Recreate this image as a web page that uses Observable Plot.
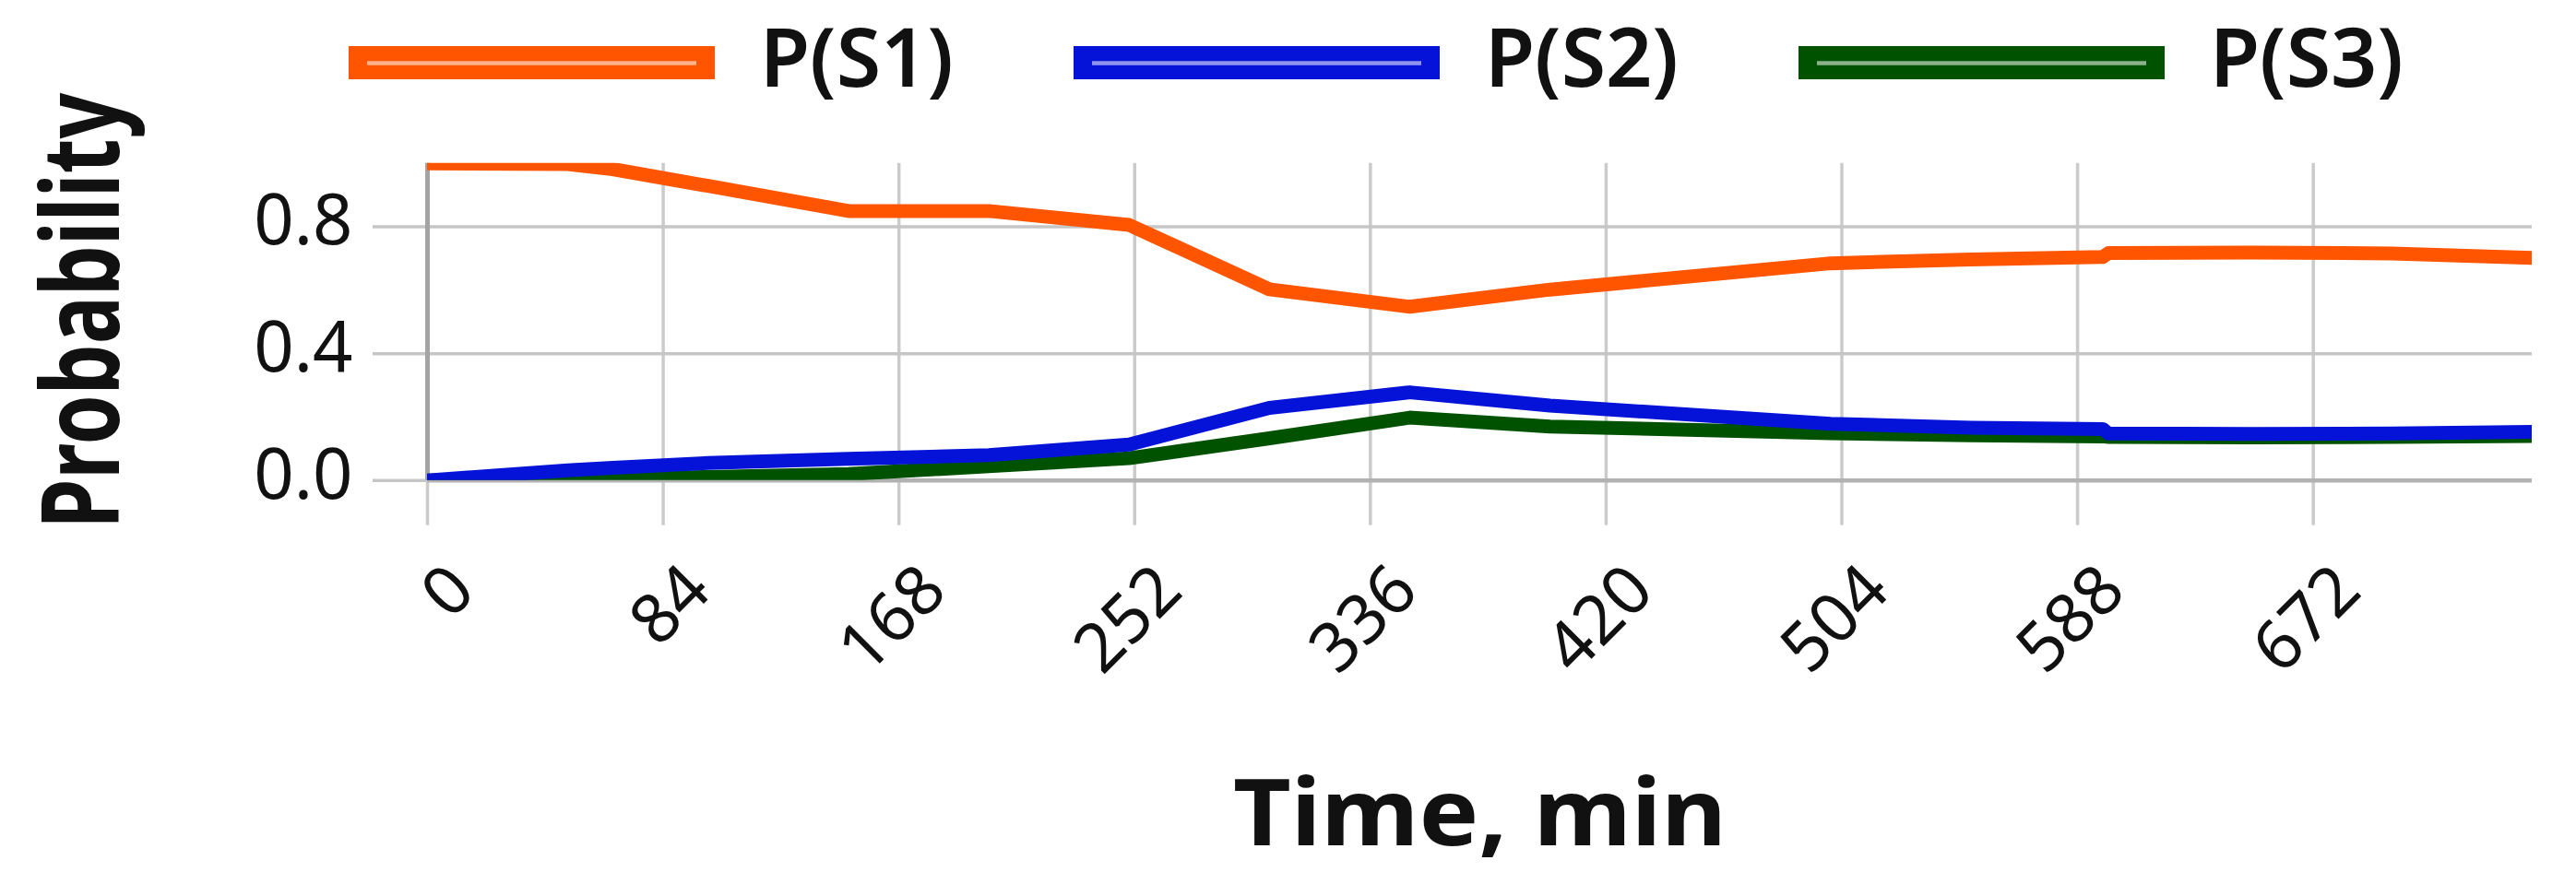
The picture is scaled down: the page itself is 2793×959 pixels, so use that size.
<!DOCTYPE html>
<html>
<head>
<meta charset="utf-8">
<script src="https://cdn.jsdelivr.net/npm/d3@7"></script>
<script src="https://cdn.jsdelivr.net/npm/@observablehq/plot@0.6"></script>
<style>
  html, body { margin: 0; padding: 0; background: #fff; }
  #chart { width: 2793px; height: 959px; overflow: hidden; background: #fff; position: relative; }
  #chart svg { display: block; }
  #legend { position: absolute; left: 330px; top: 0; pointer-events: none; }
</style>
</head>
<body>
<div id="chart"></div>
<script>
// ---- data ----
const seriesNames = ["P(S1)", "P(S2)", "P(S3)"];
const seriesColors = ["#ff5500", "#0513d9", "#005200"];
const timeMin = [0, 50, 66, 100, 150, 200, 250, 300, 350, 400, 500, 550, 597, 599, 650, 700, 750];
const pS1 = [1.0, 0.998, 0.982, 0.929, 0.85, 0.85, 0.806, 0.603, 0.548, 0.602, 0.685, 0.697, 0.705, 0.717, 0.719, 0.716, 0.702];
const pS2 = [0.0, 0.032, 0.040, 0.055, 0.068, 0.080, 0.113, 0.229, 0.278, 0.236, 0.179, 0.166, 0.162, 0.148, 0.147, 0.148, 0.153];
const pS3 = [0.0, 0.004, 0.006, 0.011, 0.020, 0.045, 0.070, 0.133, 0.198, 0.170, 0.149, 0.142, 0.139, 0.137, 0.136, 0.137, 0.140];
const xTicks = [0, 84, 168, 252, 336, 420, 504, 588, 672];
const yTicks = [0, 0.4, 0.8];
const xLabel = "Time, min";
const yLabel = "Probability";

// ---- layout ----
const W = 2793, H = 959, LEGEND_H = 130, LEGEND_X = 330;
const FONT = "Noto Sans";

// long-format table (drawn bottom-up: S3, S2, S1)
const seriesValues = [pS1, pS2, pS3];
const rows = [];
[2, 1, 0].forEach(k => seriesValues[k].forEach((v, i) => rows.push({series: seriesNames[k], t: timeMin[i], p: v})));

// ---- plot ----
const plot = Plot.plot({
  width: W,
  height: H,
  marginTop: 176.8,
  marginBottom: H - 520.7,
  marginLeft: 463,
  marginRight: 48,
  style: {fontFamily: FONT, color: "#111", background: "#fff"},
  x: {domain: [0, 750], axis: null},
  y: {domain: [0, 1], axis: null},
  color: {domain: seriesNames, range: seriesColors},
  marks: [
    // grid
    Plot.ruleX(xTicks.filter(d => d > 0), {x: d => d, stroke: "#cbcbcb", strokeWidth: 3.5}),
    Plot.ruleY(yTicks.filter(d => d > 0), {y: d => d, stroke: "#c6c6c6", strokeWidth: 3.5}),
    // tick extensions
    Plot.axisX(xTicks, {tickSize: 49, stroke: "#cbcbcb", strokeWidth: 3.5, fill: "none", label: null}),
    Plot.axisY(yTicks, {tickSize: 59, stroke: "#c6c6c6", strokeWidth: 3.5, fill: "none", label: null}),
    // axis borders
    Plot.ruleY([0], {stroke: "#b2b2b2", strokeWidth: 4.5}),
    Plot.ruleX([0], {stroke: "#a4a4a4", strokeWidth: 5}),
    // data
    Plot.line(rows, {x: "t", y: "p", z: "series", stroke: "series", strokeWidth: 15, clip: true, strokeLinejoin: "round"}),
    // y tick labels
    Plot.text(yTicks, {y: d => d, text: d => d.toFixed(1), frameAnchor: "left", textAnchor: "end", lineAnchor: "middle", dx: -81, dy: -5, fontSize: 76, fill: "#111"}),
    // x tick labels (rotated)
    Plot.text(xTicks, {x: d => d, text: d => String(d), frameAnchor: "bottom", rotate: -45, textAnchor: "end", lineAnchor: "middle", dx: 38, dy: 106, fontSize: 74, fill: "#111"}),
    // axis titles
    Plot.text([xLabel], {text: d => d, frameAnchor: "bottom", lineAnchor: "bottom", dy: 395.3, fontSize: 100, fontWeight: 700, fill: "#111"}),
    Plot.text([yLabel], {text: d => d, frameAnchor: "left", rotate: -90, lineAnchor: "bottom", textAnchor: "middle", dx: 128 - 463, dy: -12, fontSize: 116, fontWeight: 700, fill: "#111"})
  ]
});

const chart = document.getElementById("chart");
chart.appendChild(plot);

// fit the titles to the reference's proportions (scale along the text direction)
const targetLen = {[xLabel]: 535, [yLabel]: 473};
d3.select(plot).selectAll("text").each(function () {
  const t = this.textContent;
  if (t in targetLen) {
    const len = this.getComputedTextLength();
    if (len > 0) {
      const k = targetLen[t] / len;
      this.setAttribute("transform", (this.getAttribute("transform") || "") + ` scale(${k},1)`);
    }
  }
});

// ---- legend (overlaid at the top, above the plot frame) ----
const legend = d3.create("svg")
  .attr("id", "legend")
  .attr("width", W - LEGEND_X).attr("height", LEGEND_H)
  .attr("font-family", FONT);
const item = legend.selectAll("g").data(seriesNames).join("g")
  .attr("transform", (d, i) => `translate(${378 - LEGEND_X + i * 786},0)`);
item.append("rect")
  .attr("x", 0).attr("y", 50).attr("width", 397).attr("height", 36)
  .attr("fill", (d, i) => seriesColors[i]);
item.append("line")
  .attr("x1", 20).attr("x2", 377).attr("y1", 68.5).attr("y2", 68.5)
  .attr("stroke", "rgba(255,255,255,0.55)").attr("stroke-width", 4.5);
item.append("text")
  .attr("x", 446).attr("y", 94)
  .attr("font-size", 88).attr("font-weight", 600).attr("fill", "#111")
  .text(d => d);

chart.appendChild(legend.node());
</script>
</body>
</html>
